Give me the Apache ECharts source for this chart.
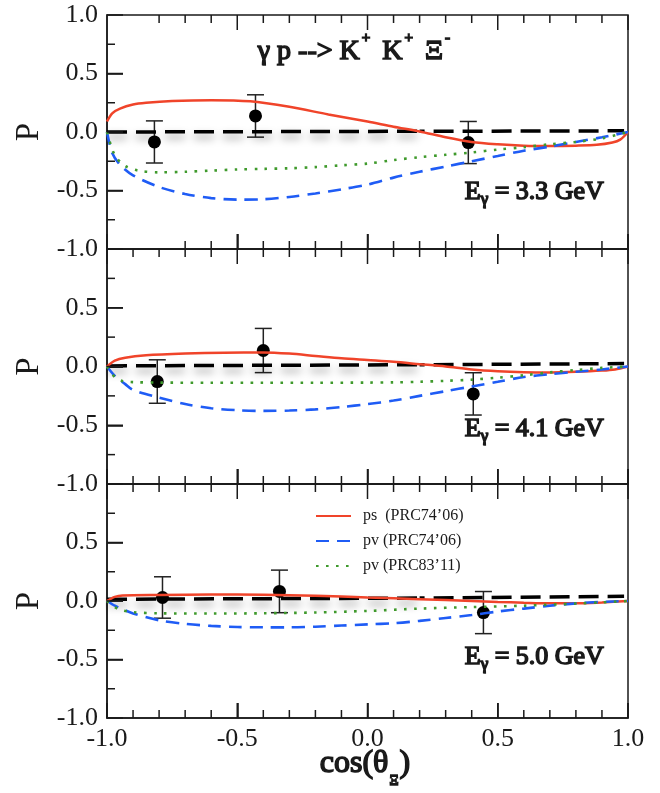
<!DOCTYPE html>
<html>
<head>
<meta charset="utf-8">
<script src="https://cdn.jsdelivr.net/npm/echarts@6/dist/echarts.min.js"></script>
<style>
  html, body { margin: 0; padding: 0; background: #fff; }
  #chart { width: 660px; height: 793px; }
</style>
</head>
<body>
<div id="chart"></div>
<script>
// Photon energies of the three panels (GeV)
const energies = ['3.3', '4.1', '5.0'];

// Axis tick values
const xMajorTicks = [-1, -0.5, 0, 0.5, 1];
const xMinorStep = 0.1;
const yMajorTicks = [-1, -0.5, 0, 0.5, 1];
const yMinorStep = 0.25;

// Series names shown in the legend
const nameRed = 'ps  (PRC74\u201906)';
const nameBlue = 'pv (PRC74\u201906)';
const nameGreen = 'pv (PRC83\u201911)';

// ---- E_gamma = 3.3 GeV ----
const ps33 = [[-1, 0.09], [-0.98, 0.16], [-0.95, 0.2], [-0.9, 0.235], [-0.85, 0.25], [-0.75, 0.265], [-0.6, 0.272], [-0.45, 0.262], [-0.3, 0.215], [-0.15, 0.15], [0, 0.09], [0.1, 0.045], [0.2, 0.005], [0.3, -0.045], [0.4, -0.085], [0.5, -0.105], [0.6, -0.117], [0.7, -0.12], [0.8, -0.117], [0.88, -0.11], [0.94, -0.09], [0.97, -0.065], [1.0, 0.0]];
const pv33 = [[-1, 0], [-0.98, -0.18], [-0.95, -0.28], [-0.9, -0.37], [-0.8, -0.47], [-0.7, -0.53], [-0.6, -0.565], [-0.5, -0.578], [-0.4, -0.575], [-0.3, -0.555], [-0.2, -0.525], [-0.1, -0.49], [0, -0.45], [0.1, -0.39], [0.2, -0.34], [0.3, -0.295], [0.4, -0.25], [0.5, -0.205], [0.6, -0.16], [0.7, -0.125], [0.8, -0.085], [0.9, -0.045], [1.0, 0.0]];
const pvNew33 = [[-1, 0], [-0.97, -0.2], [-0.93, -0.29], [-0.88, -0.33], [-0.8, -0.345], [-0.7, -0.34], [-0.6, -0.33], [-0.5, -0.32], [-0.4, -0.315], [-0.3, -0.31], [-0.2, -0.3], [-0.1, -0.285], [0, -0.27], [0.1, -0.24], [0.2, -0.215], [0.3, -0.195], [0.4, -0.175], [0.5, -0.15], [0.6, -0.13], [0.7, -0.105], [0.8, -0.085], [0.9, -0.055], [1.0, 0.0]];
const zero33 = [[-1, 0.0], [0.2, 0.006], [0.985, 0.01]];
const data33 = [[-0.818, -0.085, 0.18], [-0.43, 0.137, 0.181], [0.387, -0.09, 0.18]];

// ---- E_gamma = 4.1 GeV ----
const ps41 = [[-1, 0], [-0.97, 0.05], [-0.93, 0.075], [-0.85, 0.095], [-0.7, 0.11], [-0.55, 0.118], [-0.4, 0.12], [-0.3, 0.11], [-0.2, 0.09], [-0.1, 0.07], [0, 0.055], [0.1, 0.04], [0.2, 0.02], [0.3, 0.0], [0.4, -0.025], [0.5, -0.04], [0.6, -0.048], [0.7, -0.05], [0.8, -0.045], [0.9, -0.035], [0.95, -0.025], [1, 0]];
const pv41 = [[-1, 0], [-0.97, -0.08], [-0.93, -0.15], [-0.9, -0.2], [-0.8, -0.265], [-0.7, -0.32], [-0.6, -0.355], [-0.5, -0.372], [-0.4, -0.378], [-0.3, -0.375], [-0.2, -0.365], [-0.1, -0.345], [0, -0.32], [0.1, -0.29], [0.2, -0.25], [0.3, -0.21], [0.4, -0.17], [0.5, -0.13], [0.6, -0.09], [0.7, -0.065], [0.8, -0.045], [0.9, -0.025], [1, 0]];
const pvNew41 = [[-1, 0], [-0.97, -0.09], [-0.94, -0.125], [-0.9, -0.133], [-0.8, -0.137], [-0.6, -0.138], [-0.4, -0.138], [-0.2, -0.138], [0, -0.137], [0.1, -0.135], [0.2, -0.13], [0.3, -0.122], [0.4, -0.112], [0.5, -0.095], [0.6, -0.075], [0.7, -0.05], [0.8, -0.03], [0.9, -0.012], [1, 0]];
const zero41 = [[-1, 0.005], [0.2, 0.015], [0.985, 0.025]];
const data41 = [[-0.807, -0.128, 0.185], [-0.4, 0.136, 0.188], [0.406, -0.233, 0.18]];

// ---- E_gamma = 5.0 GeV ----
const ps50 = [[-1, 0], [-0.97, 0.035], [-0.94, 0.048], [-0.8, 0.052], [-0.6, 0.055], [-0.4, 0.053], [-0.2, 0.045], [0, 0.03], [0.2, 0.015], [0.4, 0.0], [0.5, -0.008], [0.6, -0.015], [0.7, -0.02], [0.8, -0.02], [0.9, -0.012], [1, 0]];
const pv50 = [[-1, 0], [-0.97, -0.04], [-0.93, -0.08], [-0.9, -0.107], [-0.8, -0.165], [-0.7, -0.195], [-0.6, -0.213], [-0.5, -0.222], [-0.4, -0.225], [-0.3, -0.225], [-0.2, -0.22], [-0.1, -0.21], [0, -0.2], [0.1, -0.19], [0.2, -0.17], [0.3, -0.145], [0.4, -0.12], [0.5, -0.09], [0.6, -0.065], [0.7, -0.04], [0.8, -0.02], [0.9, -0.008], [1, 0]];
const pvNew50 = [[-1, 0], [-0.96, -0.065], [-0.9, -0.095], [-0.8, -0.105], [-0.6, -0.107], [-0.4, -0.105], [-0.2, -0.098], [0, -0.085], [0.2, -0.065], [0.4, -0.052], [0.6, -0.04], [0.8, -0.022], [0.9, -0.012], [1, 0]];
const zero50 = [[-1, 0.015], [0.2, 0.025], [0.985, 0.04]];
const data50 = [[-0.787, 0.03, 0.177], [-0.338, 0.082, 0.182], [0.445, -0.099, 0.18]];

const panels = [
  { ps: ps33, pv: pv33, pvNew: pvNew33, zero: zero33, data: data33 },
  { ps: ps41, pv: pv41, pvNew: pvNew41, zero: zero41, data: data41 },
  { ps: ps50, pv: pv50, pvNew: pvNew50, zero: zero50, data: data50 }
];

// Shadow under the reference line stops at this cos(theta)
const shadowEnd = 0.2;

const FONT = '"Liberation Serif", "Times New Roman", serif';
const INK = '#1a1a1a';
const RED = '#f0442a';
const BLUE = '#1f5cf5';
const GREEN = '#3f9a2c';

const gridLeft = 107, gridRight = 32, chartWidth = 660;
const gridTops = [15, 249, 484];
const gridHeights = [234, 235, 234];

const isMajor = (v, list) => list.some(m => Math.abs(m - v) < 1e-6);

const grids = [], xAxes = [], yAxes = [], series = [];

panels.forEach((p, i) => {
  grids.push({
    left: gridLeft, right: gridRight, top: gridTops[i], height: gridHeights[i],
    show: true, borderColor: INK, borderWidth: 1.5, backgroundColor: 'transparent'
  });

  xAxes.push({
    type: 'value', gridIndex: i, min: -1, max: 1, interval: 0.5, position: 'bottom',
    axisLine: { show: true, onZero: false, lineStyle: { color: INK, width: 1.5 } },
    axisTick: { show: true, inside: true, length: 15, lineStyle: { color: INK, width: 1.6 } },
    splitLine: { show: false },
    axisLabel: {
      show: i === panels.length - 1, margin: 8, fontFamily: FONT, fontSize: 26, color: INK,
      formatter: v => v.toFixed(1)
    }
  });

  yAxes.push({
    type: 'value', gridIndex: i, min: -1, max: 1, interval: 0.5, position: 'left',
    axisLine: { show: true, onZero: false, lineStyle: { color: INK, width: 1.5 } },
    axisTick: { show: true, inside: true, length: 16, lineStyle: { color: INK, width: 1.6 } },
    splitLine: { show: false },
    axisLabel: {
      margin: 9, fontFamily: FONT, fontSize: 26, color: INK,
      showMaxLabel: i === 0, showMinLabel: true,
      formatter: v => v.toFixed(1)
    },
    name: 'P', nameLocation: 'middle', nameRotate: 90, nameGap: 60,
    nameTextStyle: { fontFamily: FONT, fontSize: 33, color: INK }
  });

  // measured points with error bars
  series.push({
    type: 'custom', xAxisIndex: i, yAxisIndex: i, z: 3,
    data: p.data, encode: { x: 0, y: 1 },
    renderItem: (params, api) => {
      const x = api.value(0), y = api.value(1), e = api.value(2);
      const t = api.coord([x, y + e]);
      const b = api.coord([x, y - e]);
      const hw = 8.5;
      const st = { stroke: '#222', lineWidth: 1.5 };
      return {
        type: 'group', children: [
          { type: 'line', shape: { x1: t[0], y1: t[1], x2: b[0], y2: b[1] }, style: st },
          { type: 'line', shape: { x1: t[0] - hw, y1: t[1], x2: t[0] + hw, y2: t[1] }, style: st },
          { type: 'line', shape: { x1: b[0] - hw, y1: b[1], x2: b[0] + hw, y2: b[1] }, style: st }
        ]
      };
    }
  });
  series.push({
    type: 'scatter', xAxisIndex: i, yAxisIndex: i, z: 4,
    data: p.data.map(d => [d[0], d[1]]),
    symbol: 'circle', symbolSize: 13,
    itemStyle: { color: '#000', opacity: 1 }
  });

  // reference line near zero, with a soft shadow on its left part
  series.push({
    type: 'line', xAxisIndex: i, yAxisIndex: i, z: 5,
    data: p.zero.filter(d => d[0] <= shadowEnd),
    showSymbol: false, symbol: 'none', silent: true,
    lineStyle: {
      color: '#000', width: 3.5, type: [20, 9],
      shadowColor: 'rgba(0,0,0,0.4)', shadowBlur: 8, shadowOffsetY: 5
    }
  });
  series.push({
    type: 'line', xAxisIndex: i, yAxisIndex: i, z: 5,
    data: p.zero.filter(d => d[0] >= shadowEnd),
    showSymbol: false, symbol: 'none', silent: true,
    lineStyle: { color: '#000', width: 3.5, type: [20, 9], dashOffset: 15 }
  });

  // model curves
  series.push({
    name: nameRed, type: 'line', xAxisIndex: i, yAxisIndex: i, z: 6,
    data: p.ps, smooth: 0.3, symbol: 'none',
    lineStyle: { color: RED, width: 2.5 }, itemStyle: { color: RED }
  });
  series.push({
    name: nameBlue, type: 'line', xAxisIndex: i, yAxisIndex: i, z: 6,
    data: p.pv, smooth: 0.3, symbol: 'none',
    lineStyle: { color: BLUE, width: 2.6, type: [13, 8] }, itemStyle: { color: BLUE }
  });
  series.push({
    name: nameGreen, type: 'line', xAxisIndex: i, yAxisIndex: i, z: 6,
    data: p.pvNew, smooth: 0.3, symbol: 'none',
    lineStyle: { color: GREEN, width: 2.6, type: [2.6, 7.4] }, itemStyle: { color: GREEN }
  });
});

// Text annotations: reaction, beam energies, x-axis title
const graphics = [{
  type: 'text', left: 257, top: 30, z: 20,
  style: {
    text: '{n|\u03b3 p --> K}{p|+}{n| K}{p|+}{n| \u039e}{p|-}',
    rich: {
      n: { fontFamily: FONT, fontSize: 28, fill: INK },
      p: { fontFamily: FONT, fontSize: 15, fill: INK, padding: [0, 5, 26, 2] }
    }
  }
}, {
  type: 'text', left: 319, top: 747, z: 20,
  style: {
    text: '{n|cos(\u03b8}{s|\u039e}{n|)}',
    rich: {
      n: { fontFamily: FONT, fontSize: 32, fill: INK },
      s: { fontFamily: FONT, fontSize: 14, fill: INK, padding: [36, 1, 0, 1] }
    }
  }
}];
const energyTops = [178, 415, 643];
energies.forEach((e, i) => {
  graphics.push({
    type: 'text', left: 464, top: energyTops[i], z: 20,
    style: {
      text: '{n|E}{s|\u03b3}{n| = ' + e + ' GeV}',
      rich: {
        n: { fontFamily: FONT, fontSize: 26, fill: INK },
        s: { fontFamily: FONT, fontSize: 17, fill: INK, padding: [16, 0, 0, 0] }
      }
    }
  });
});

const chart = echarts.init(document.getElementById('chart'), null, { renderer: 'canvas' });
chart.setOption({
  animation: false,
  backgroundColor: '#fff',
  grid: grids,
  xAxis: xAxes,
  yAxis: yAxes,
  legend: {
    data: [nameRed, nameBlue, nameGreen],
    orient: 'vertical', left: 310, top: 503,
    itemWidth: 35, itemHeight: 14, itemGap: 9,
    itemStyle: { opacity: 0 },
    textStyle: { fontFamily: FONT, fontSize: 16, color: INK, padding: [0, 0, 0, 7] },
    selectedMode: false
  },
  graphic: graphics,
  series: series
});

// Frame tick marks (bottom, top, left) as plain graphic strokes.
// Positions come from the panel's axes; grid geometry is the fallback.
function toPixel(gi, x, y) {
  let c = null;
  try { c = chart.convertToPixel({ xAxisIndex: gi, yAxisIndex: gi }, [x, y]); } catch (e) { c = null; }
  if (!c || !isFinite(c[0]) || !isFinite(c[1])) {
    const w = chartWidth - gridLeft - gridRight;
    c = [gridLeft + (x + 1) / 2 * w, gridTops[gi] + (1 - y) / 2 * gridHeights[gi]];
  }
  return c;
}
const tickLines = [];
panels.forEach((p, gi) => {
  for (let k = 0; k <= 20; k++) {
    const v = +(-1 + k * xMinorStep).toFixed(2);
    const len = isMajor(v, xMajorTicks) ? 15 : 8;
    const b = toPixel(gi, v, -1), t = toPixel(gi, v, 1);
    tickLines.push(
      { type: 'line', z: 30, shape: { x1: b[0], y1: b[1], x2: b[0], y2: b[1] - len }, style: { stroke: INK, lineWidth: 1.5 } },
      { type: 'line', z: 30, shape: { x1: t[0], y1: t[1], x2: t[0], y2: t[1] + len }, style: { stroke: INK, lineWidth: 1.5 } }
    );
  }
  for (let k = 1; k < 8; k++) {
    const v = -1 + k * yMinorStep;
    const len = isMajor(v, yMajorTicks) ? 16 : 8;
    const c = toPixel(gi, -1, v);
    tickLines.push({ type: 'line', z: 30, shape: { x1: c[0], y1: c[1], x2: c[0] + len, y2: c[1] }, style: { stroke: INK, lineWidth: 1.5 } });
  }
});
chart.setOption({ graphic: [{ type: 'group', id: 'frameTicks', children: tickLines }] });
</script>
</body>
</html>
